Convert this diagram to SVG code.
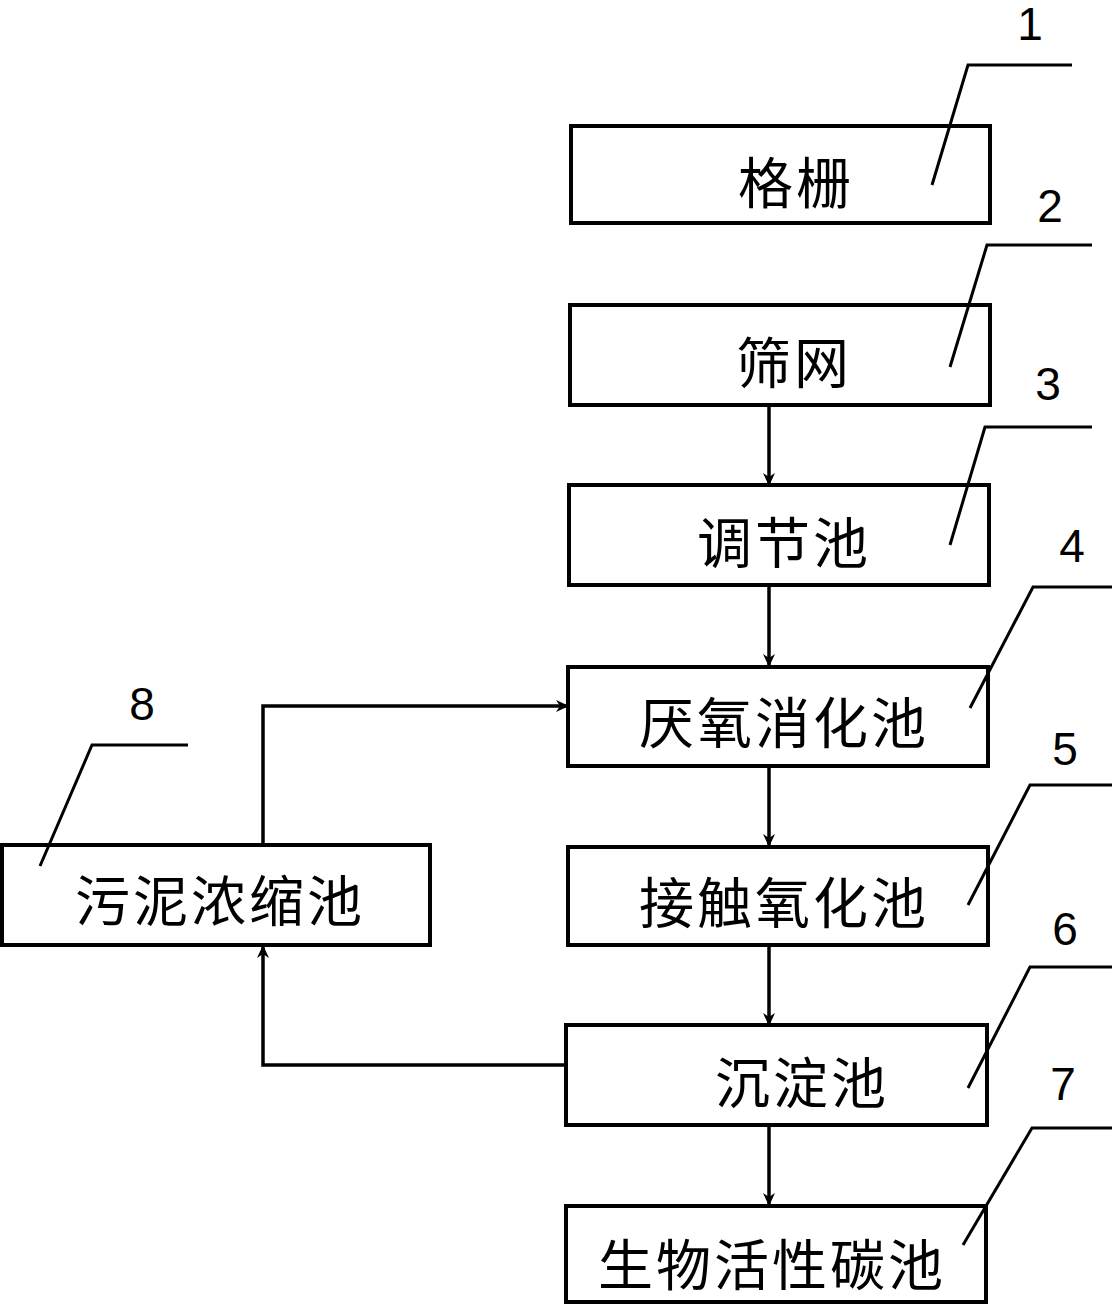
<svg xmlns="http://www.w3.org/2000/svg" width="1115" height="1310" viewBox="0 0 1115 1310">
<defs>
<marker id="ah" markerWidth="14" markerHeight="14" refX="12" refY="7" orient="auto" markerUnits="userSpaceOnUse">
<path d="M0,1 L13,7 L0,13 L4,7 Z" fill="#000"/>
</marker>
<style>
.box{fill:#fff;stroke:#000;stroke-width:4}
.t{font-family:"Noto Sans CJK SC","Noto Sans CJK JP",sans-serif;font-size:55px;font-weight:400;letter-spacing:3px;fill:#000;text-anchor:middle}
.n{font-family:"Liberation Sans","DejaVu Sans",sans-serif;font-size:46px;fill:#000;text-anchor:middle}
.ld{fill:none;stroke:#000;stroke-width:3}
.c{fill:none;stroke:#000;stroke-width:3.5}
</style>
</defs>
<rect width="1115" height="1310" fill="#fff"/>
<g id="connectors">
<line class="c" x1="769" y1="405" x2="769" y2="485" marker-end="url(#ah)"/>
<line class="c" x1="769" y1="585" x2="769" y2="666" marker-end="url(#ah)"/>
<line class="c" x1="769" y1="766" x2="769" y2="846" marker-end="url(#ah)"/>
<line class="c" x1="769" y1="945" x2="769" y2="1025" marker-end="url(#ah)"/>
<line class="c" x1="769" y1="1125" x2="769" y2="1205" marker-end="url(#ah)"/>
<polyline class="c" points="263,845 263,706 568,706" marker-end="url(#ah)"/>
<polyline class="c" points="566,1065 263,1065 263,946" marker-end="url(#ah)"/>
</g>
<g id="n1"><rect class="box" x="571" y="126" width="419" height="97"/><text class="t" x="796" y="203">格栅</text>
<text class="n" x="1030" y="40">1</text><polyline class="ld" points="1072,65 968,65 932,185"/></g>
<g id="n2"><rect class="box" x="570" y="305" width="420" height="100"/><text class="t" x="794" y="383">筛网</text>
<text class="n" x="1050" y="222">2</text><polyline class="ld" points="1092,245 987,245 950,367"/></g>
<g id="n3"><rect class="box" x="569" y="485" width="420" height="100"/><text class="t" x="784" y="563">调节池</text>
<text class="n" x="1048" y="400">3</text><polyline class="ld" points="1092,427 985,427 950,545"/></g>
<g id="n4"><rect class="box" x="568" y="667" width="420" height="99"/><text class="t" x="784" y="743">厌氧消化池</text>
<text class="n" x="1072" y="562">4</text><polyline class="ld" points="1112,587 1033,587 970,708"/></g>
<g id="n5"><rect class="box" x="568" y="847" width="420" height="98"/><text class="t" x="784" y="923">接触氧化池</text>
<text class="n" x="1065" y="765">5</text><polyline class="ld" points="1112,785 1030,785 968,905"/></g>
<g id="n6"><rect class="box" x="566" y="1025" width="421" height="100"/><text class="t" x="802" y="1103">沉淀池</text>
<text class="n" x="1065" y="945">6</text><polyline class="ld" points="1112,967 1030,967 968,1088"/></g>
<g id="n7"><rect class="box" x="566" y="1206" width="420" height="96"/><text class="t" x="772" y="1285">生物活性碳池</text>
<text class="n" x="1063" y="1100">7</text><polyline class="ld" points="1112,1128 1032,1128 963,1245"/></g>
<g id="n8"><rect class="box" x="2" y="845" width="428" height="100"/><text class="t" x="220" y="921">污泥浓缩池</text>
<text class="n" x="142" y="720">8</text><polyline class="ld" points="188,745 92,745 40,866"/></g>
</svg>
